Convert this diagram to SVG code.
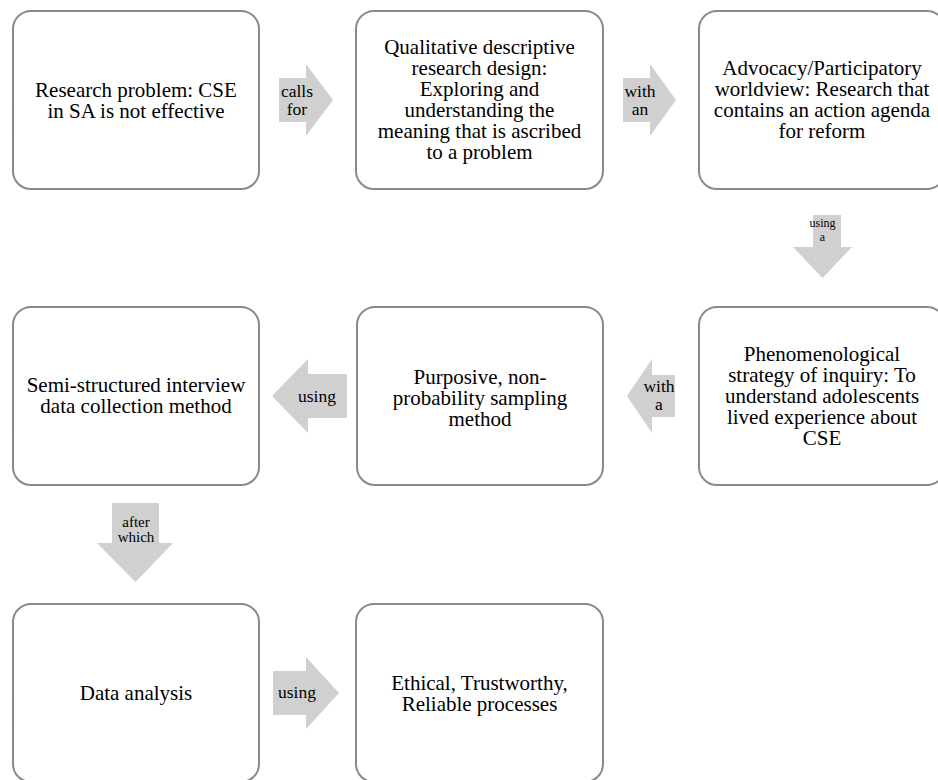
<svg xmlns="http://www.w3.org/2000/svg" width="938" height="780" viewBox="0 0 938 780">
<style>
.box{fill:#ffffff;stroke:#8a8a8a;stroke-width:2}
.arr{fill:#d0d0d0;stroke:none}
text{font-family:"Liberation Serif",Tinos,"Times New Roman",Times,"DejaVu Serif","Noto Serif",serif;fill:#000;text-anchor:middle}
.t{font-size:21px}
.l{font-size:17.5px}
.s{font-size:15px}
.xs{font-size:12px}
</style>
<rect width="938" height="780" fill="#ffffff"/>
<g id="connectors" font-family="Liberation Serif, Tinos, Times New Roman, serif">
  <g id="c1"><polygon class="arr" points="279,78 306,78 306,64 333,100 306,136 306,122 279,122"/><text class="l" x="297" y="97">calls</text><text class="l" x="297" y="115">for</text></g>
  <g id="c2"><polygon class="arr" points="623,78 650,78 650,64 676,100 650,136 650,122 623,122"/><text class="l" x="640" y="97">with</text><text class="l" x="640" y="115">an</text></g>
  <g id="c3"><polygon class="arr" points="813,215 841,215 841,247 852,247 822.5,278 793,247 813,247"/><text class="xs" x="822.5" y="227">using</text><text class="xs" x="822.5" y="241">a</text></g>
  <g id="c4"><polygon class="arr" points="675,375 652,375 652,359 627,396 652,433 652,417 675,417"/><text class="l" x="659" y="392">with</text><text class="l" x="659" y="410">a</text></g>
  <g id="c5"><polygon class="arr" points="347,374 308,374 308,359 272,396 308,433 308,418 347,418"/><text class="l" x="317" y="402">using</text></g>
  <g id="c6"><polygon class="arr" points="112,503 159,503 159,543 173,543 135.5,582 97,543 112,543"/><text class="s" x="136" y="527">after</text><text class="s" x="136" y="542">which</text></g>
  <g id="c7"><polygon class="arr" points="273,671 306,671 306,657 339,693 306,729 306,715 273,715"/><text class="l" x="297" y="698">using</text></g>
</g>
<g id="n1"><rect class="box" x="13" y="11" width="246" height="178" rx="18"/>
  <text class="t" x="136" y="97">Research problem: CSE</text><text class="t" x="136" y="118">in SA is not effective</text></g>
<g id="n2"><rect class="box" x="356" y="11" width="247" height="178" rx="18"/>
  <text class="t" x="479.5" y="54">Qualitative descriptive</text>
  <text class="t" x="479.5" y="75">research design:</text>
  <text class="t" x="479.5" y="96">Exploring and</text>
  <text class="t" x="479.5" y="117">understanding the</text>
  <text class="t" x="479.5" y="138">meaning that is ascribed</text>
  <text class="t" x="479.5" y="159">to a problem</text></g>
<g id="n3"><rect class="box" x="699" y="11" width="246" height="178" rx="18"/>
  <text class="t" x="822" y="75">Advocacy/Participatory</text>
  <text class="t" x="822" y="96">worldview: Research that</text>
  <text class="t" x="822" y="117">contains an action agenda</text>
  <text class="t" x="822" y="138">for reform</text></g>
<g id="n4"><rect class="box" x="699" y="307" width="246" height="178" rx="18"/>
  <text class="t" x="822" y="361">Phenomenological</text>
  <text class="t" x="822" y="382">strategy of inquiry: To</text>
  <text class="t" x="822" y="403">understand adolescents</text>
  <text class="t" x="822" y="424">lived experience about</text>
  <text class="t" x="822" y="445">CSE</text></g>
<g id="n5"><rect class="box" x="357" y="307" width="246" height="178" rx="18"/>
  <text class="t" x="480" y="384">Purposive, non-</text>
  <text class="t" x="480" y="405">probability sampling</text>
  <text class="t" x="480" y="426">method</text></g>
<g id="n6"><rect class="box" x="13" y="307" width="246" height="178" rx="18"/>
  <text class="t" x="136" y="392">Semi-structured interview</text>
  <text class="t" x="136" y="413">data collection method</text></g>
<g id="n7"><rect class="box" x="13" y="604" width="246" height="178" rx="18"/>
  <text class="t" x="136" y="700">Data analysis</text></g>
<g id="n8"><rect class="box" x="356" y="604" width="247" height="178" rx="18"/>
  <text class="t" x="479.5" y="690">Ethical, Trustworthy,</text>
  <text class="t" x="479.5" y="711">Reliable processes</text></g>
</svg>
